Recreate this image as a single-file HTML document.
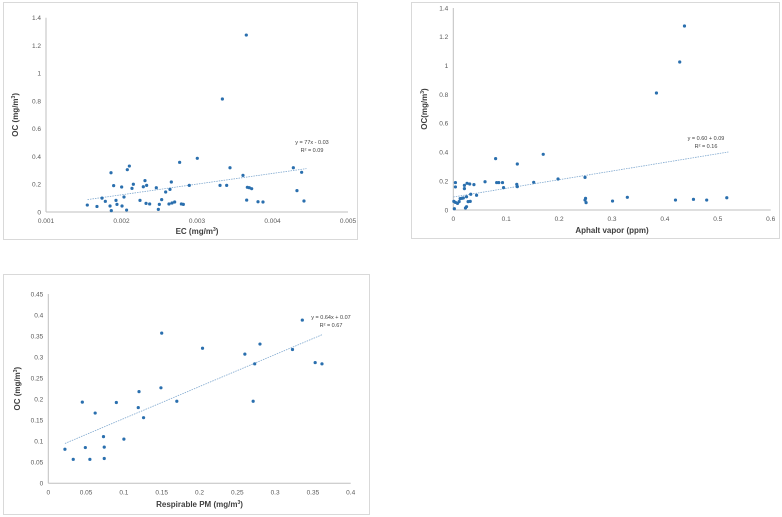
<!DOCTYPE html>
<html><head><meta charset="utf-8">
<style>
html,body{margin:0;padding:0;background:#fff;}
svg{display:block;font-family:"Liberation Sans",sans-serif;}
</style></head>
<body>
<svg id="root" width="782" height="517" viewBox="0 0 782 517"></svg>
<script>
// Chart 1: EC vs OC
const ecX = [0.001547,0.001675,0.001742,0.001786,0.001848,0.001865,0.001861,0.001896,0.001927,0.00194,0.002002,0.002007,0.002033,0.002068,0.002077,0.002104,0.002139,0.002157,0.002245,0.002289,0.002311,0.002325,0.002333,0.002373,0.002461,0.002488,0.002501,0.002532,0.002585,0.002629,0.002642,0.00266,0.002669,0.002704,0.00277,0.002793,0.002819,0.002898,0.003004,0.003305,0.003336,0.003393,0.003437,0.003609,0.003653,0.003658,0.003667,0.003693,0.003724,0.003808,0.003874,0.004276,0.004324,0.004386,0.004417];
const ecY = [0.05,0.04,0.10,0.077,0.043,0.01,0.283,0.19,0.084,0.055,0.18,0.043,0.108,0.014,0.305,0.331,0.17,0.2,0.084,0.182,0.226,0.062,0.192,0.058,0.175,0.019,0.055,0.089,0.144,0.058,0.163,0.216,0.065,0.072,0.358,0.058,0.055,0.192,0.387,0.192,0.814,0.192,0.319,0.264,1.275,0.086,0.178,0.175,0.168,0.074,0.072,0.319,0.154,0.286,0.079];
const ecXTicks = [0.001,0.002,0.003,0.004,0.005];
const ecYTicks = [0,0.2,0.4,0.6,0.8,1,1.2,1.4];
const ecFit = [77,-0.03];
// Chart 2: Asphalt vapor vs OC
const avX = [0.002,0.004,0.004,0.001,0.004,0.008,0.011,0.013,0.016,0.019,0.023,0.025,0.021,0.021,0.025,0.026,0.028,0.031,0.032,0.033,0.039,0.044,0.06,0.08,0.082,0.086,0.093,0.095,0.12,0.121,0.121,0.152,0.17,0.198,0.249,0.249,0.25,0.251,0.301,0.329,0.384,0.428,0.437,0.42,0.454,0.479,0.517];
const avY = [0.009,0.19,0.16,0.06,0.053,0.046,0.058,0.079,0.081,0.083,0.014,0.023,0.171,0.148,0.092,0.185,0.058,0.18,0.06,0.109,0.176,0.102,0.196,0.356,0.19,0.19,0.19,0.155,0.178,0.162,0.319,0.192,0.386,0.215,0.226,0.069,0.081,0.051,0.062,0.088,0.811,1.026,1.275,0.069,0.074,0.069,0.085];
const avXTicks = [0,0.1,0.2,0.3,0.4,0.5,0.6];
const avYTicks = [0,0.2,0.4,0.6,0.8,1,1.2,1.4];
const avFit = [0.6,0.09];
// Chart 3: Respirable PM vs OC
const pmX = [0.022,0.033,0.045,0.049,0.055,0.062,0.073,0.074,0.074,0.09,0.1,0.119,0.12,0.126,0.149,0.15,0.17,0.204,0.26,0.271,0.273,0.28,0.323,0.336,0.353,0.362];
const pmY = [0.081,0.057,0.193,0.085,0.057,0.167,0.111,0.059,0.086,0.192,0.105,0.18,0.218,0.156,0.227,0.357,0.195,0.321,0.307,0.195,0.284,0.331,0.318,0.388,0.287,0.284];
const pmXTicks = [0,0.05,0.1,0.15,0.2,0.25,0.3,0.35,0.4];
const pmYTicks = [0,0.05,0.1,0.15,0.2,0.25,0.3,0.35,0.4,0.45];
const pmFit = [0.76,0.078];

const NS="http://www.w3.org/2000/svg";
const root=document.getElementById('root');
function mk(tag,attrs,parent){const e=document.createElementNS(NS,tag);for(const k in attrs)e.setAttribute(k,attrs[k]);(parent||root).appendChild(e);return e;}

function chart(cfg){
  const g=mk('g',{});
  
  
  const box=mk('rect',{x:cfg.box[0],y:cfg.box[1],width:cfg.box[2],height:cfg.box[3],fill:'#fff',stroke:'#d9d9d9','stroke-width':1},g);
  
  
  const [x0,x1,y0,y1]=cfg.plot; // pixel: left,right,bottom,top
  const xmin=cfg.xt[0],xmax=cfg.xt[cfg.xt.length-1],ymin=cfg.yt[0],ymax=cfg.yt[cfg.yt.length-1];
  const sx=v=>x0+(v-xmin)/(xmax-xmin)*(x1-x0);
  const sy=v=>y0-(v-ymin)/(ymax-ymin)*(y0-y1);
  const xa=mk('line',{x1:x0,x2:x1,y1:y0,y2:y0,stroke:'#bfbfbf','stroke-width':1},g);
  
  
  const ya=mk('line',{x1:x0,x2:x0,y1:y0,y2:y1,stroke:'#bfbfbf','stroke-width':1},g);
  
  
  cfg.xt.forEach(v=>{
    const t=mk('text',{x:sx(v),y:y0+11,'font-size':6.5,fill:'#595959','text-anchor':'middle'},g);
    t.textContent=String(v);
    
    
  });
  cfg.yt.forEach(v=>{
    const t=mk('text',{x:x0-5,y:sy(v)+2.3,'font-size':6.5,fill:'#595959','text-anchor':'end'},g);
    t.textContent=String(v);
    
    
  });
  const xt=mk('text',{x:(x0+x1)/2,y:cfg.xty,'font-size':8,'font-weight':'bold',fill:'#404040','text-anchor':'middle'},g);
  xt.innerHTML=cfg.xlabel;
  
  
  const ytx=cfg.ytx, ycy=(y0+y1)/2;
  const yt=mk('text',{x:ytx,y:ycy,'font-size':8,'font-weight':'bold',fill:'#404040','text-anchor':'middle',transform:`rotate(-90 ${ytx} ${ycy})`},g);
  yt.innerHTML=cfg.ylabel;
  
  
  const fx0=cfg.fitRange[0],fx1=cfg.fitRange[1];
  const tl=mk('line',{x1:sx(fx0),y1:sy(cfg.fit[0]*fx0+cfg.fit[1]),x2:sx(fx1),y2:sy(cfg.fit[0]*fx1+cfg.fit[1]),stroke:'#7fa8cf','stroke-width':0.8,'stroke-dasharray':'1.5,1'},g);
  
  
  cfg.xs.forEach((v,i)=>{
    const c=mk('circle',{cx:sx(v),cy:sy(cfg.ys[i]),r:1.6,fill:'#2a6fae'},g);
    
    
  });
  const e1=mk('text',{x:cfg.eq[0],y:cfg.eq[1],'font-size':5.5,fill:'#404040','text-anchor':'middle'},g);
  e1.textContent=cfg.eqText;
  
  
  const e2=mk('text',{x:cfg.eq[0],y:cfg.eq[1]+8,'font-size':5.5,fill:'#404040','text-anchor':'middle'},g);
  e2.textContent=cfg.r2Text;
  
  
}

chart({name:'ec-oc-chart',box:[3.5,2.5,354,237],plot:[46,348,212,17.7],xt:ecXTicks,yt:ecYTicks,xs:ecX,ys:ecY,fit:ecFit,fitRange:[0.00155,0.00445],
  xlabel:'EC (mg/m<tspan font-size="5" dy="-3">3</tspan><tspan dy="3">)</tspan>',ylabel:'OC (mg/m<tspan font-size="5" dy="-3">3</tspan><tspan dy="3">)</tspan>',
  xty:234,ytx:18,eq:[312,144],eqText:'y = 77x - 0.03',r2Text:'R² = 0.09'});
chart({name:'asphalt-oc-chart',box:[411.5,2.5,368,236],plot:[453.3,770.7,210,8],xt:avXTicks,yt:avYTicks,xs:avX,ys:avY,fit:avFit,fitRange:[0,0.52],
  xlabel:'Aphalt vapor (ppm)',ylabel:'OC(mg/m<tspan font-size="5" dy="-3">3</tspan><tspan dy="3">)</tspan>',
  xty:233,ytx:427,eq:[706,140],eqText:'y = 0.60 + 0.09',r2Text:'R² = 0.16'});
chart({name:'pm-oc-chart',box:[3.5,274.5,366,240],plot:[48.3,350.7,483.3,294],xt:pmXTicks,yt:pmYTicks,xs:pmX,ys:pmY,fit:pmFit,fitRange:[0.022,0.363],
  xlabel:'Respirable PM (mg/m<tspan font-size="5" dy="-3">3</tspan><tspan dy="3">)</tspan>',ylabel:'OC (mg/m<tspan font-size="5" dy="-3">3</tspan><tspan dy="3">)</tspan>',
  xty:507,ytx:20,eq:[331,319],eqText:'y = 0.64x + 0.07',r2Text:'R² = 0.67'});
</script>
</body></html>
